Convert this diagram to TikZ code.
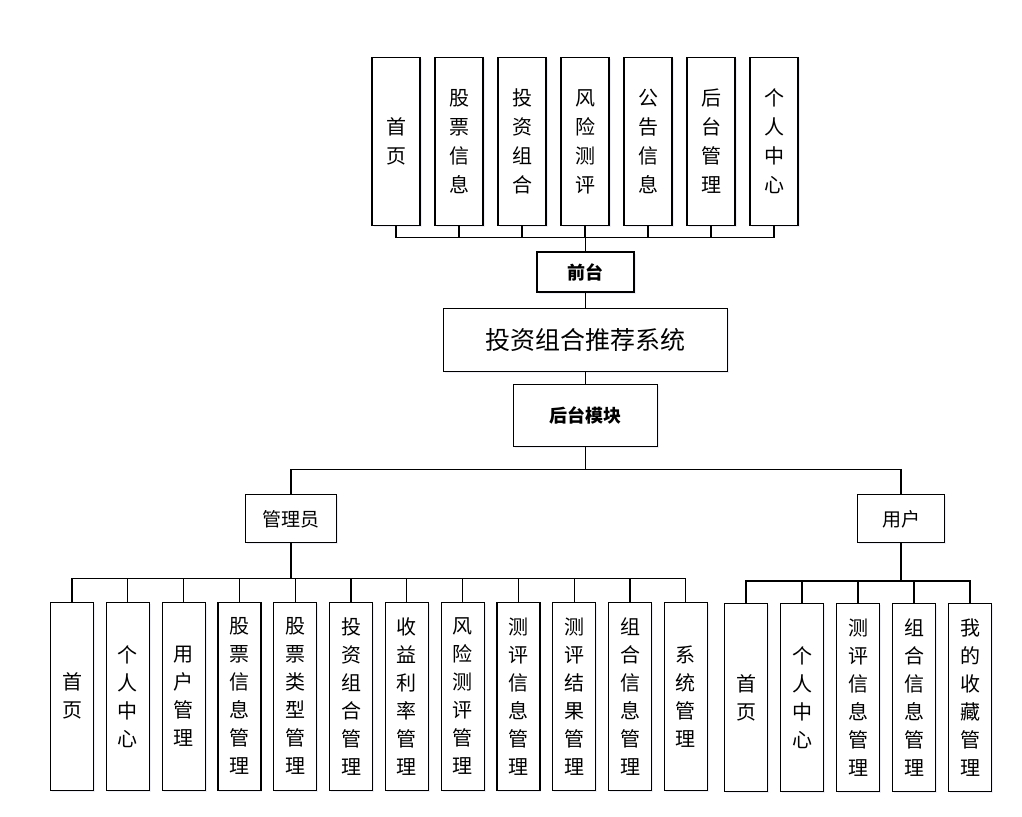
\documentclass[tikz,border=0pt]{standalone}
\usepackage{fontspec}
\newfontfamily\cjk{Noto Sans CJK SC}
\usetikzlibrary{positioning,shadows}
\tikzset{
    diagramshadow/.style={drop shadow={shadow xshift=1.5pt, shadow yshift=-1.5pt, fill=blue!30!gray, opacity=0.1}},
    diagrammenu/.style={draw, fill=white, line width=1.2pt, align=center, inner sep=0pt, minimum width=48pt, minimum height=168pt, font=\cjk\fontsize{20}{29}\selectfont, diagramshadow},
    diagramfunc/.style={draw, fill=white, line width=1.2pt, align=center, inner sep=0pt, minimum width=43pt, minimum height=188pt, font=\cjk\fontsize{20}{28}\selectfont, diagramshadow},
    diagramhub/.style={draw, fill=white, line width=1.2pt, align=center, font=\cjk\bfseries\fontsize{18}{22}\selectfont, diagramshadow},
    diagrammain/.style={draw, fill=white, line width=1.2pt, align=center, minimum width=284pt, minimum height=63pt, font=\cjk\fontsize{25}{30}\selectfont, diagramshadow},
    diagramrole/.style={draw, fill=white, line width=1.2pt, align=center, minimum height=48pt, font=\cjk\fontsize{19}{22}\selectfont, diagramshadow},
    diagramline/.style={line width=1.3pt}
}
\begin{document}
\begin{tikzpicture}[x=1pt, y=-1pt, node distance=13.8pt]
        \useasboundingbox (0,0) rectangle (1022,816);
        % front pages
        \node[diagrammenu] (home) at (396,141.5) {首\\页};
        \node[diagrammenu, right=of home] (stock) {股\\票\\信\\息};
        \node[diagrammenu, right=of stock] (portfolio) {投\\资\\组\\合};
        \node[diagrammenu, right=of portfolio] (risk) {风\\险\\测\\评};
        \node[diagrammenu, right=of risk] (notice) {公\\告\\信\\息};
        \node[diagrammenu, right=of notice] (backend) {后\\台\\管\\理};
        \node[diagrammenu, right=of backend] (personal) {个\\人\\中\\心};
        % middle chain
        \node[diagrammain] (system) at (585.5,339.7) {投资组合推荐系统};
        \node[diagramhub, minimum width=97pt, minimum height=40pt, above=15pt of system] (frontend) {前台};
        \node[diagramhub, minimum width=144pt, minimum height=62pt, below=12pt of system] (backmodule) {后台模块};
        \node[diagramrole, minimum width=91pt] (admin) at (291,518.8) {管理员};
        \node[diagramrole, minimum width=87pt] (user) at (901,518.8) {用户};
        % admin functions
        \node[diagramfunc] (ahome) at (72,696.2) {首\\页};
        \node[diagramfunc, right=11.6pt of ahome] (apersonal) {个\\人\\中\\心};
        \node[diagramfunc, right=11.6pt of apersonal] (ausers) {用\\户\\管\\理};
        \node[diagramfunc, right=11.6pt of ausers] (astock) {股\\票\\信\\息\\管\\理};
        \node[diagramfunc, right=11.6pt of astock] (atype) {股\\票\\类\\型\\管\\理};
        \node[diagramfunc, right=11.6pt of atype] (aportfolio) {投\\资\\组\\合\\管\\理};
        \node[diagramfunc, right=11.6pt of aportfolio] (ayield) {收\\益\\利\\率\\管\\理};
        \node[diagramfunc, right=11.6pt of ayield] (arisk) {风\\险\\测\\评\\管\\理};
        \node[diagramfunc, right=11.6pt of arisk] (aevalinfo) {测\\评\\信\\息\\管\\理};
        \node[diagramfunc, right=11.6pt of aevalinfo] (aevalresult) {测\\评\\结\\果\\管\\理};
        \node[diagramfunc, right=11.6pt of aevalresult] (ainfo) {组\\合\\信\\息\\管\\理};
        \node[diagramfunc, right=11.6pt of ainfo] (asys) {系\\统\\管\\理};
        % user functions
        \node[diagramfunc] (uhome) at (746,697.7) {首\\页};
        \node[diagramfunc, right=11.8pt of uhome] (upersonal) {个\\人\\中\\心};
        \node[diagramfunc, right=11.8pt of upersonal] (uevalinfo) {测\\评\\信\\息\\管\\理};
        \node[diagramfunc, right=11.8pt of uevalinfo] (uinfo) {组\\合\\信\\息\\管\\理};
        \node[diagramfunc, right=11.8pt of uinfo] (ufav) {我\\的\\收\\藏\\管\\理};
        % connectors
        \coordinate (topbus) at (585.5,237.3);
        \coordinate (branch) at (585.5,469.3);
        \coordinate (adminbus) at (291,578.5);
        \coordinate (userbus) at (901,581);
        \draw[diagramline] (home.south) |- (topbus);
        \draw[diagramline] (stock.south) |- (topbus);
        \draw[diagramline] (portfolio.south) |- (topbus);
        \draw[diagramline] (risk.south) |- (topbus);
        \draw[diagramline] (notice.south) |- (topbus);
        \draw[diagramline] (backend.south) |- (topbus);
        \draw[diagramline] (personal.south) |- (topbus);
        \draw[diagramline] (topbus) -- (frontend.north);
        \draw[diagramline] (frontend) -- (system);
        \draw[diagramline] (system) -- (backmodule);
        \draw[diagramline] (backmodule) -- (branch);
        \draw[diagramline] (admin.north) |- (branch);
        \draw[diagramline] (user.north) |- (branch);
        \draw[diagramline] (admin) -- (adminbus);
        \draw[diagramline] (ahome.north) |- (adminbus);
        \draw[diagramline] (apersonal.north) |- (adminbus);
        \draw[diagramline] (ausers.north) |- (adminbus);
        \draw[diagramline] (astock.north) |- (adminbus);
        \draw[diagramline] (atype.north) |- (adminbus);
        \draw[diagramline] (aportfolio.north) |- (adminbus);
        \draw[diagramline] (ayield.north) |- (adminbus);
        \draw[diagramline] (arisk.north) |- (adminbus);
        \draw[diagramline] (aevalinfo.north) |- (adminbus);
        \draw[diagramline] (aevalresult.north) |- (adminbus);
        \draw[diagramline] (ainfo.north) |- (adminbus);
        \draw[diagramline] (asys.north) |- (adminbus);
        \draw[diagramline] (user) -- (userbus);
        \draw[diagramline] (uhome.north) |- (userbus);
        \draw[diagramline] (upersonal.north) |- (userbus);
        \draw[diagramline] (uevalinfo.north) |- (userbus);
        \draw[diagramline] (uinfo.north) |- (userbus);
        \draw[diagramline] (ufav.north) |- (userbus);
    \end{tikzpicture}
\end{document}
